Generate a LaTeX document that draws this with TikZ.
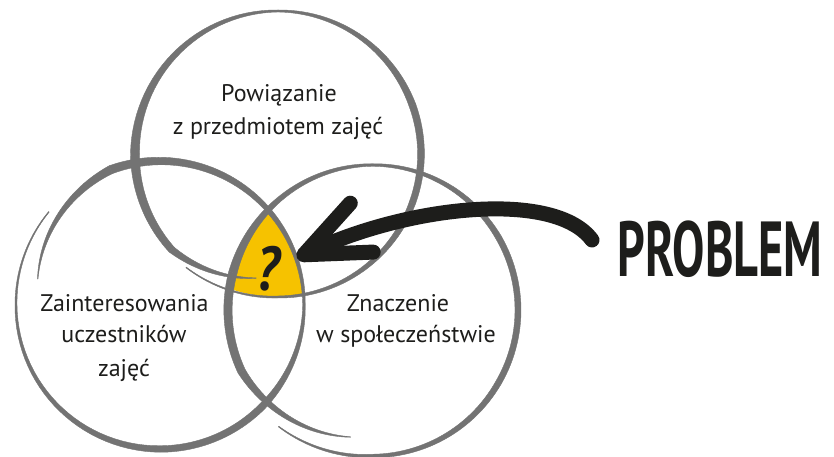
\documentclass[tikz,border=0pt]{standalone}
\usepackage{fontspec}
\setmainfont{PT Sans}
\usetikzlibrary{arrows.meta}

\definecolor{ringgray}{RGB}{115,115,115}
\definecolor{inkblack}{RGB}{29,29,27}
\definecolor{qyellow}{RGB}{246,194,0}

% piece of a brush ring: centre x, centre y, from angle, to angle, radius from/to, width from/to
\newcommand{\ringband}[8]{%
  \filldraw[ringgray, line width=0.4pt, line join=round]
    plot[domain=#3:#4, samples=30, variable=\t]
      ({#1+((#5)+((#6)-(#5))*(\t-(#3))/((#4)-(#3))+0.5*((#7)+((#8)-(#7))*(\t-(#3))/((#4)-(#3))))*cos(\t)},
       {#2+((#5)+((#6)-(#5))*(\t-(#3))/((#4)-(#3))+0.5*((#7)+((#8)-(#7))*(\t-(#3))/((#4)-(#3))))*sin(\t)})
    -- plot[domain=#4:#3, samples=30, variable=\t]
      ({#1+((#5)+((#6)-(#5))*(\t-(#3))/((#4)-(#3))-0.5*((#7)+((#8)-(#7))*(\t-(#3))/((#4)-(#3))))*cos(\t)},
       {#2+((#5)+((#6)-(#5))*(\t-(#3))/((#4)-(#3))-0.5*((#7)+((#8)-(#7))*(\t-(#3))/((#4)-(#3))))*sin(\t)})
    -- cycle;}

\begin{document}
\begin{tikzpicture}[
	x=1pt, y=1pt,
	circtext/.style={ font=\fontsize{24}{28}\selectfont, text=inkblack, inner sep=0pt, anchor=base },
	bigtext/.style={ font=\fontsize{78}{80}\selectfont\bfseries, text=inkblack, inner sep=0pt, anchor=base, xscale=0.62 },
	qmark/.style={ font=\fontsize{62}{64}\selectfont\bfseries\itshape, text=inkblack, inner sep=0pt, anchor=base, xscale=0.85 },
	pointer/.style={ inkblack, line width=15pt, line cap=round, -{Straight Barb[length=64pt, width=54pt, round]} }
]
\useasboundingbox (0,0) rectangle (834,457);

% the part all three share
\begin{scope}
\clip (278,303) circle (143);
\clip (160,152) circle (144);
\fill[qyellow] (373,147) circle (145);
\end{scope}

% top ring
\ringband{278}{303}{-129}{-90}{146}{143}{0.8}{2}
\ringband{278}{303}{-90}{-20}{143}{143}{2}{6.5}
\ringband{278}{303}{-20}{20}{143}{143}{6.5}{7}
\ringband{278}{303}{20}{90}{143}{143}{7}{2}
\ringband{278}{303}{90}{180}{143}{143}{2}{9}
\ringband{278}{303}{180}{222}{143}{143}{9}{7}
\ringband{278}{303}{222}{260}{143}{126}{7}{0.5}

% left ring
\ringband{160}{152}{140}{180}{145}{144}{0.8}{2}
\ringband{160}{152}{180}{270}{144}{144}{2}{6.5}
\ringband{160}{152}{270}{315}{144}{144}{6.5}{7}
\ringband{160}{152}{315}{360}{144}{144}{7}{2.5}
\ringband{160}{152}{360}{400}{144}{144}{2.5}{5}
\ringband{160}{152}{400}{470}{144}{144}{5}{8.5}
\ringband{160}{152}{470}{528}{144}{125}{8.5}{0.5}

% right ring
\ringband{373}{147}{-129}{-90}{150}{146}{0.8}{3.5}
\ringband{373}{147}{-90}{-30}{146}{145}{3.5}{6}
\ringband{373}{147}{-30}{30}{145}{145}{6}{6}
\ringband{373}{147}{30}{90}{145}{145}{6}{2.5}
\ringband{373}{147}{90}{130}{145}{145}{2.5}{5}
\ringband{373}{147}{130}{165}{145}{145}{5}{8.5}
\ringband{373}{147}{165}{205}{145}{145}{8.5}{8}
\ringband{373}{147}{205}{260}{145}{129}{8}{0.5}

\coordinate (tail) at (592,217);
\coordinate (tip) at (297,199);
\draw[pointer] (tail) .. controls (555,267) and (410,252) .. (tip);

\node (pow1) at (279,355) [circtext] {Powiązanie};
\node (pow2) at (278,322) [circtext] {z przedmiotem zajęć};

\node (zai1) at (124.5,145) [circtext] {Zainteresowania};
\node (zai2) at (124,114) [circtext] {uczestników};
\node (zai3) at (124,80) [circtext] {zajęć};

\node (zna1) at (398,145) [circtext] {Znaczenie};
\node (zna2) at (406,114) [circtext] {w społeczeństwie};

\node (q) at (268,166) [qmark] {?};
\node (problem) at (720,180) [bigtext] {PROBLEM};

\end{tikzpicture}
\end{document}
